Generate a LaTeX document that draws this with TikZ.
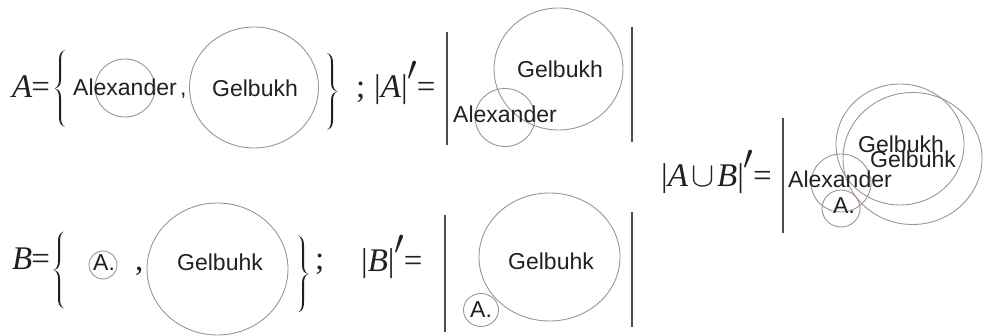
\documentclass[tikz,border=0pt]{standalone}
\usepackage{fix-cm}
\usepackage{fontspec}
\setmainfont{Liberation Serif}
\newfontfamily\sansf{Liberation Sans}
\usetikzlibrary{shapes.geometric}
\definecolor{circ}{HTML}{A09290}
\definecolor{txt}{HTML}{231F20}
\definecolor{barc}{HTML}{4D4D4D}
\newcommand{\prm}{\scalebox{1.5}{$'$}}
\newcommand{\cupsym}{\scalebox{1.05}{$\cup$}}
\tikzset{
  lbr/.pic={
    \fill[txt] (5,-38.5) .. controls (0.5,-37) and (-1,-34) .. (-1,-28)
      -- (-1,-9) .. controls (-1,-4) and (-2.5,-1) .. (-5.5,0)
      .. controls (-2.5,1) and (-1,4) .. (-1,9)
      -- (-1,28) .. controls (-1,34) and (0.5,37) .. (5,38.5)
      .. controls (1.5,36.5) and (1,33) .. (1,28)
      -- (1,9) .. controls (1,3) and (-1.5,0.6) .. (-5.5,0)
      .. controls (-1.5,-0.6) and (1,-3) .. (1,-9)
      -- (1,-28) .. controls (1,-33) and (1.5,-36.5) .. (5,-38.5) -- cycle;
  }
}
\begin{document}
\begin{tikzpicture}[x=1pt,y=-1pt,
  lab/.style={font=\sansf\fontsize{23}{27}\selectfont, text=txt, inner sep=0pt, anchor=base west},
  mth/.style={font=\fontsize{33}{38}\selectfont, text=txt, inner sep=0pt, anchor=base west},
  ring/.style={draw=circ, line width=0.9pt, ellipse, inner sep=0pt},
  bar/.style={draw=barc, line width=1.6pt}]
\useasboundingbox (0,0) rectangle (988,336);

% ---------- top row: A ----------
\node[mth] (Aeq) at (12,98) {\textit{A}\kern-1pt=};
\pic at (60,88.5) {lbr};
\node[ring, minimum width=60, minimum height=58] (Acx) at (125,88) {};
\node[lab] (Aalex) at (73,96) {Alexander};
\node[lab] (Acomma) at (180,96) {,};
\node[ring, minimum width=129, minimum height=121] (Acg) at (254,87.5) {};
\node[lab] (Agel) at (212,97) {Gelbukh};
\pic[xscale=-1] at (332,91.5) {lbr};
\node[mth] (Asemi) at (356,98) {;};
\node[mth] (Apr) at (374,98) {|\textit{A}|\prm\kern-1pt=};
\coordinate (Ab1t) at (447,32);
\coordinate (Ab1b) at (447,145);
\coordinate (Ab2t) at (632,27);
\coordinate (Ab2b) at (632,142);
\draw[bar] (Ab1t) -- (Ab1b);
\draw[bar] (Ab2t) -- (Ab2b);
\node[ring, minimum width=129, minimum height=122] (Apg) at (558.5,69) {};
\node[lab] (Apgel) at (517,78) {Gelbukh};
\node[ring, minimum width=60, minimum height=58] (Apx) at (505,117.5) {};
\node[lab] (Apalex) at (453,123) {Alexander};

% ---------- bottom row: B ----------
\node[mth] (Beq) at (12,270) {\textit{B}\kern-1pt=};
\pic at (59,270) {lbr};
\node[ring, minimum width=28, minimum height=28] (Bca) at (103,265) {};
\node[lab] (Ba) at (93,271) {A.};
\node[mth] (Bcomma) at (135,271) {,};
\node[ring, minimum width=141, minimum height=132] (Bcg) at (217.5,269) {};
\node[lab] (Bgel) at (177,271) {Gelbuhk};
\pic[xscale=-1] at (303,274) {lbr};
\node[mth] (Bsemi) at (315,270) {;};
\node[mth] (Bpr) at (361,272) {|\textit{B}|\prm\kern-1pt=};
\coordinate (Bb1t) at (445,215);
\coordinate (Bb1b) at (445,332);
\coordinate (Bb2t) at (632,212);
\coordinate (Bb2b) at (632,327);
\draw[bar] (Bb1t) -- (Bb1b);
\draw[bar] (Bb2t) -- (Bb2b);
\node[ring, minimum width=141, minimum height=128] (Bpg) at (549.5,257) {};
\node[lab] (Bpgel) at (508,270) {Gelbuhk};
\node[ring, minimum width=35, minimum height=33] (Bpa) at (481,310) {};
\node[lab] (Bpatxt) at (470,318) {A.};

% ---------- union ----------
\node[mth] (Ueq) at (661,187) {|\textit{A}\hspace{3pt}\cupsym\hspace{3pt}\textit{B}|\prm\kern-1pt=};
\coordinate (Ubt) at (783,118);
\coordinate (Ubb) at (783,233);
\draw[bar] (Ubt) -- (Ubb);
\node[ring, minimum width=128, minimum height=121] (Ug1) at (900,144.5) {};
\node[ring, minimum width=139, minimum height=132] (Ug2) at (912.5,158.5) {};
\node[ring, minimum width=60, minimum height=58] (Ux) at (841,183) {};
\node[ring, minimum width=38, minimum height=37] (Ua) at (841,208.5) {};
\node[lab] (Ugel1) at (858,153) {Gelbukh};
\node[lab] (Ugel2) at (870,168) {Gelbuhk};
\node[lab] (Ualex) at (788,188) {Alexander};
\node[lab] (Uatxt) at (833,214) {A.};
\end{tikzpicture}
\end{document}
